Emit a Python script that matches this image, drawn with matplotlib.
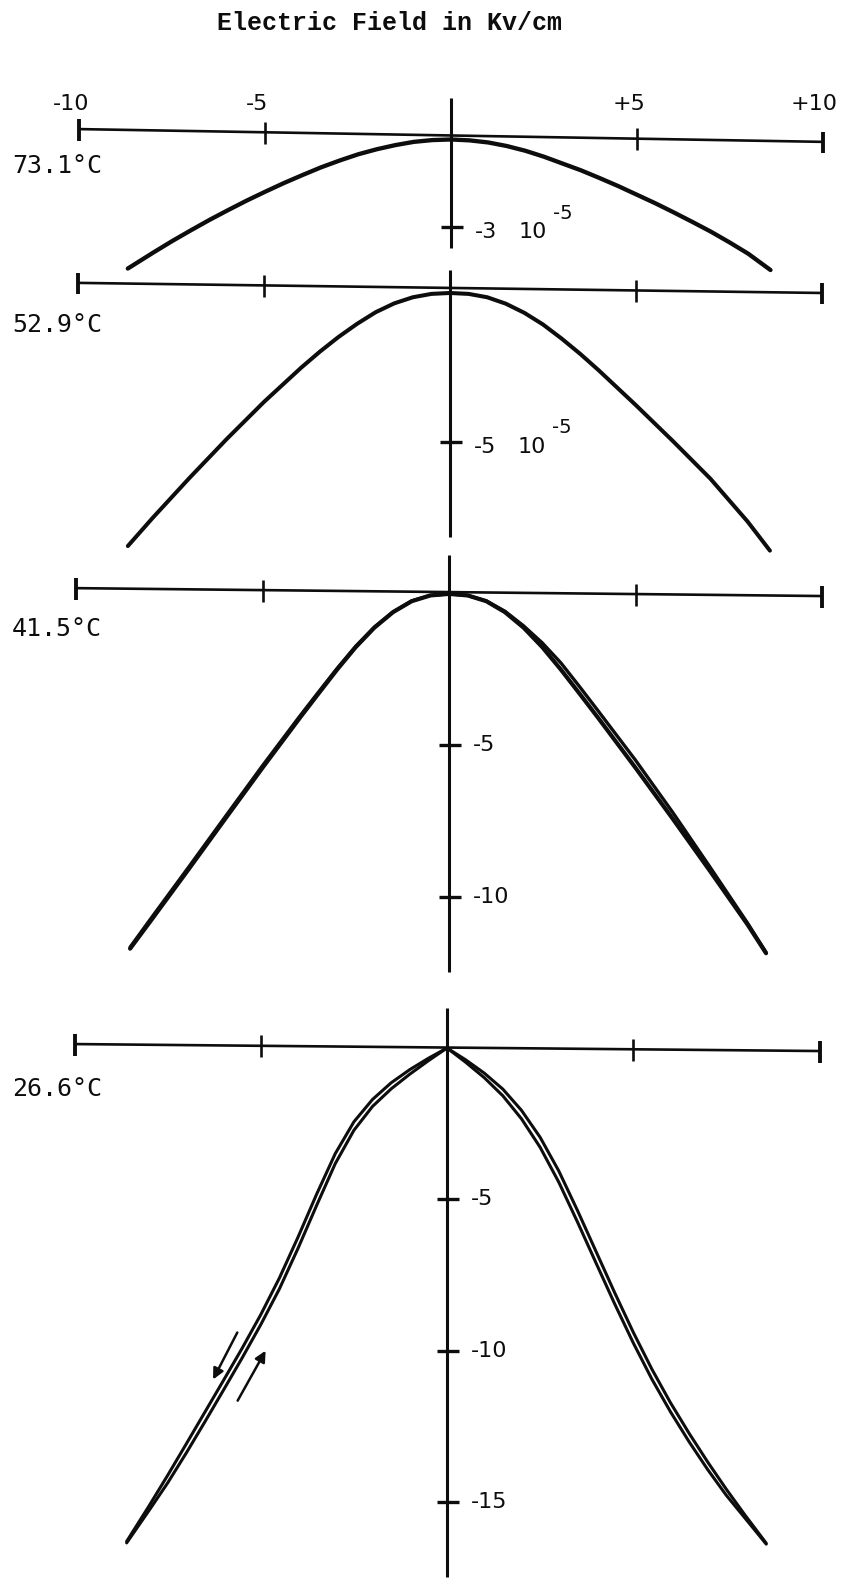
import matplotlib
matplotlib.use("Agg")
import matplotlib.pyplot as plt
import numpy as np

# ---------------- data ----------------
title_text = "Electric Field in Kv/cm"
x_ticks = [-10, -5, 5, 10]
x_tick_labels = ["-10", "-5", "+5", "+10"]
temperatures = ["73.1°C", "52.9°C", "41.5°C", "26.6°C"]

# y ticks (units of 10^-5) per panel
p1_yticks = [-3]
p1_ytick_labels = ["-3"]
p2_yticks = [-5]
p2_ytick_labels = ["-5"]
p3_yticks = [-5, -10]
p3_ytick_labels = ["-5", "-10"]
p4_yticks = [-5, -10, -15]
p4_ytick_labels = ["-5", "-10", "-15"]
exponent_label = "-5"
exponent_base = "10"

# 73.1 C
p1_x = [-8.7, -8.0, -7.5, -7.0, -6.5, -6.0, -5.5, -5.0, -4.5, -4.0, -3.5, -3.0, -2.5, -2.0,
        -1.5, -1.0, -0.5, 0.0, 0.5, 1.0, 1.5, 2.0, 2.5, 3.0, 3.5, 4.0, 4.5, 5.0, 5.5, 6.0,
        6.5, 7.0, 7.5, 8.0, 8.6]
p1_y = [-4.4, -3.85, -3.47, -3.11, -2.76, -2.43, -2.11, -1.81, -1.52, -1.25, -0.99, -0.76,
        -0.55, -0.38, -0.24, -0.13, -0.07, -0.05, -0.08, -0.15, -0.27, -0.43, -0.63, -0.86,
        -1.09, -1.35, -1.62, -1.91, -2.2, -2.51, -2.83, -3.16, -3.52, -3.9, -4.45]

# 52.9 C
p2_x = [-8.66, -8.0, -7.0, -6.0, -5.0, -4.0, -3.5, -3.0, -2.5, -2.0, -1.5, -1.0, -0.5, 0.0,
        0.5, 1.0, 1.5, 2.0, 2.5, 3.0, 3.5, 4.0, 5.0, 6.0, 7.0, 8.0, 8.6]
p2_y = [-8.4, -7.49, -6.17, -4.9, -3.69, -2.57, -2.05, -1.57, -1.14, -0.76, -0.47, -0.27,
        -0.16, -0.13, -0.16, -0.27, -0.48, -0.78, -1.16, -1.62, -2.12, -2.66, -3.8, -4.98,
        -6.2, -7.6, -8.55]

# 41.5 C (two nearly coincident branches)
p3a_x = [-8.55, -8.0, -7.0, -6.0, -5.0, -4.0, -3.5, -3.0, -2.5, -2.0, -1.5, -1.0, -0.5, 0.0,
         0.5, 1.0, 1.5, 2.0, 2.5, 3.0, 3.5, 4.0, 5.0, 6.0, 7.0, 8.0, 8.5]
p3a_y = [-11.7, -10.79, -9.12, -7.43, -5.75, -4.11, -3.31, -2.52, -1.78, -1.14, -0.63, -0.27,
         -0.08, -0.03, -0.08, -0.27, -0.63, -1.14, -1.78, -2.52, -3.31, -4.11, -5.75, -7.43,
         -9.15, -10.9, -11.85]
p3b_x = [-8.55, -8.0, -7.0, -6.0, -5.0, -4.0, -3.5, -3.0, -2.5, -2.0, -1.5, -1.0, -0.5, 0.0,
         0.5, 1.0, 1.5, 2.0, 2.5, 3.0, 3.5, 4.0, 5.0, 6.0, 7.0, 8.0, 8.5]
p3b_y = [-11.65, -10.72, -9.05, -7.36, -5.68, -4.05, -3.26, -2.48, -1.75, -1.12, -0.62, -0.26,
         -0.08, -0.03, -0.08, -0.26, -0.6, -1.08, -1.64, -2.3, -3.08, -3.88, -5.5, -7.22,
         -9.02, -10.85, -11.82]

# 26.6 C (hysteresis loop: outer and inner branches)
p4a_x = [-8.6, -8.0, -7.5, -7.0, -6.5, -6.0, -5.5, -5.0, -4.5, -4.0, -3.5, -3.0, -2.5, -2.0,
         -1.5, -1.0, -0.5, 0.0, 0.5, 1.0, 1.5, 2.0, 2.5, 3.0, 3.5, 4.0, 4.5, 5.0, 5.5, 6.0,
         6.5, 7.0, 7.5, 8.0, 8.57]
p4a_y = [-16.3, -15.13, -14.12, -13.08, -12.03, -10.98, -9.92, -8.81, -7.6, -6.25, -4.83,
         -3.49, -2.44, -1.7, -1.15, -0.715, -0.34, 0.0, -0.39, -0.83, -1.36, -2.06, -2.95,
         -4.06, -5.36, -6.72, -8.08, -9.39, -10.61, -11.72, -12.73, -13.68, -14.58, -15.43,
         -16.36]
p4b_x = [-8.6, -8.0, -7.5, -7.0, -6.5, -6.0, -5.5, -5.0, -4.5, -4.0, -3.5, -3.0, -2.5, -2.0,
         -1.5, -1.0, -0.5, 0.0, 0.5, 1.0, 1.5, 2.0, 2.5, 3.0, 3.5, 4.0, 4.5, 5.0, 5.5, 6.0,
         6.5, 7.0, 7.5, 8.0, 8.57]
p4b_y = [-16.35, -15.28, -14.37, -13.38, -12.35, -11.3, -10.24, -9.14, -7.96, -6.62, -5.2,
         -3.82, -2.72, -1.93, -1.35, -0.865, -0.42, 0.0, -0.47, -0.98, -1.58, -2.34, -3.28,
         -4.43, -5.74, -7.1, -8.45, -9.74, -10.94, -12.02, -13.01, -13.93, -14.78, -15.53,
         -16.39]

# direction arrows on the 26.6 C loop (tail -> head)
arrow_down = [(-5.63, -9.4), (-6.28, -10.95)]
arrow_up = [(-5.62, -11.65), (-4.87, -10.0)]

# ---------------- layout ----------------
W, H = 847, 1579
fig = plt.figure(figsize=(W / 100, H / 100), dpi=100)
fig.patch.set_facecolor("white")

INK = "#0d0d0d"
NUM_FONT = ["DejaVu Sans"]
TEMP_FONT = ["DejaVu Sans Mono"]

panels = [
    # pixel frame for each panel: zero x, px per kV/cm, zero y, px per unit
    dict(x0=451, sx=37.15, y0=138, sy=29.67, ax_l=0.30, ax_r=-0.13, v_top=1.35, v_bot=-3.71,
         temp_y=-0.95, curves=[(p1_x, p1_y, 3.1)], yt=p1_yticks, ytl=p1_ytick_labels, expo=True),
    dict(x0=450, sx=37.2, y0=289, sy=30.6, ax_l=0.20, ax_r=-0.13, v_top=0.62, v_bot=-8.1,
         temp_y=-1.18, curves=[(p2_x, p2_y, 2.9)], yt=p2_yticks, ytl=p2_ytick_labels, expo=True),
    dict(x0=449, sx=37.3, y0=593, sy=30.4, ax_l=0.16, ax_r=-0.10, v_top=1.25, v_bot=-12.47,
         temp_y=-1.18, curves=[(p3a_x, p3a_y, 3.0), (p3b_x, p3b_y, 2.4)], yt=p3_yticks,
         ytl=p3_ytick_labels, expo=False),
    dict(x0=447, sx=37.25, y0=1048, sy=30.27, ax_l=0.13, ax_r=-0.10, v_top=1.32, v_bot=-17.48,
         temp_y=-1.35, curves=[(p4a_x, p4a_y, 2.2), (p4b_x, p4b_y, 2.2)], yt=p4_yticks,
         ytl=p4_ytick_labels, expo=False),
]

for i, p in enumerate(panels):
    ax = fig.add_axes([0, 0, 1, 1])
    ax.set_xlim(-p["x0"] / p["sx"], (W - p["x0"]) / p["sx"])
    ax.set_ylim((p["y0"] - H) / p["sy"], p["y0"] / p["sy"])
    ax.axis("off")
    ax.patch.set_alpha(0)

    # horizontal field axis (slightly tilted as on the original)
    ax.plot([-10, 10], [p["ax_l"], p["ax_r"]], color=INK, lw=1.9, solid_capstyle="butt")
    for xt in x_ticks:
        yc = np.interp(xt, [-10, 10], [p["ax_l"], p["ax_r"]])
        half = 11.5 / p["sy"]
        lw = 2.8 if abs(xt) == 10 else 1.9
        ax.plot([xt, xt], [yc - half, yc + half * 0.9], color=INK, lw=lw, solid_capstyle="butt")

    # vertical axis
    ax.plot([0, 0], [p["v_top"], p["v_bot"]], color=INK, lw=2.2, solid_capstyle="butt")
    for yv, lab in zip(p["yt"], p["ytl"]):
        ax.plot([-10 / p["sx"], 12 / p["sx"]], [yv, yv], color=INK, lw=2.4, solid_capstyle="butt")
        if p["expo"]:
            ax.annotate(lab, xy=(0, yv), xytext=(24, -5), textcoords="offset pixels",
                        ha="left", va="center", fontsize=16, family=NUM_FONT, color=INK)
            ax.annotate(exponent_base, xy=(0, yv), xytext=(68, -5), textcoords="offset pixels",
                        ha="left", va="center", fontsize=16, family=NUM_FONT, color=INK)
            ax.annotate(exponent_label, xy=(0, yv), xytext=(102, 14), textcoords="offset pixels",
                        ha="left", va="center", fontsize=14, family=NUM_FONT, color=INK)
        else:
            ax.annotate(lab, xy=(0, yv), xytext=(24, 0), textcoords="offset pixels",
                        ha="left", va="center", fontsize=16, family=NUM_FONT, color=INK)

    # tick labels of field axis on top panel only
    if i == 0:
        for xt, lab in zip(x_ticks, x_tick_labels):
            ax.annotate(lab, xy=(xt, 1.15), xytext=(-8, 0), textcoords="offset pixels",
                        ha="center", va="center", fontsize=16, family=NUM_FONT, color=INK)

    # temperature label
    ax.text((12 - p["x0"]) / p["sx"], p["temp_y"], temperatures[i], ha="left", va="center",
            fontsize=18, family=TEMP_FONT, color=INK)

    # curves
    for cx, cy, lw in p["curves"]:
        ax.plot(cx, cy, color=INK, lw=lw, solid_capstyle="round", solid_joinstyle="round")

    if i == 3:
        for tail, head in (arrow_down, arrow_up):
            ax.annotate("", xy=head, xytext=tail,
                        arrowprops=dict(arrowstyle="-|>", color=INK, lw=1.8,
                                        mutation_scale=16, shrinkA=0, shrinkB=0))

fig.text(389 / W, 1 - 23 / H, title_text, ha="center", va="center", fontsize=18,
         family=["Liberation Mono", "DejaVu Sans Mono"], fontweight="bold", color=INK)

fig.savefig("out.png", dpi=100, facecolor="white")
